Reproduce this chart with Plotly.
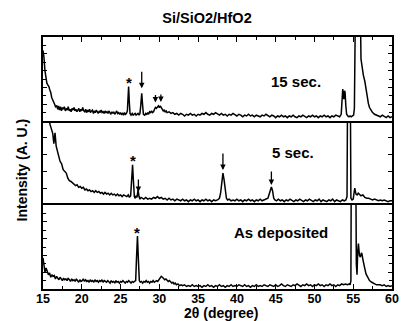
import numpy as np
import plotly.graph_objects as go
from plotly.subplots import make_subplots

title = "Si/SiO2/HfO2"
x_label = "2θ (degree)"
y_label = "Intensity (A. U.)"
sample_labels = ["15 sec.", "5 sec.", "As deposited"]
x_tick_vals = [15, 20, 25, 30, 35, 40, 45, 50, 55, 60]

# ---------------- 15 sec. (top) ----------------
x_15s = [15.00, 15.12, 15.25, 15.38, 15.50, 15.62, 15.76, 15.88, 16.00, 16.12,
         16.26, 16.38, 16.50, 16.62, 16.77, 16.90, 17.00, 17.12, 17.25, 17.38,
         17.50, 17.62, 17.75, 17.88, 18.00, 18.12, 18.25, 18.38, 18.50, 18.62,
         18.75, 18.88, 19.00, 19.12, 19.25, 19.38, 19.50, 19.62, 19.75, 19.88,
         20.00, 20.12, 20.25, 20.38, 20.50, 20.62, 20.75, 20.88, 21.00, 21.12,
         21.25, 21.38, 21.50, 21.62, 21.75, 21.88, 22.00, 22.12, 22.25, 22.38,
         22.50, 22.62, 22.75, 22.88, 23.00, 23.12, 23.25, 23.38, 23.50, 23.62,
         23.75, 23.88, 24.00, 24.12, 24.25, 24.38, 24.50, 24.62, 24.75, 24.88,
         25.00, 25.12, 25.25, 25.38, 25.50, 25.62, 25.75, 25.88, 25.95, 26.04,
         26.12, 26.22, 26.35, 26.50, 26.62, 26.75, 26.88, 27.00, 27.12, 27.25,
         27.38, 27.50, 27.60, 27.73, 27.85, 27.95, 28.12, 28.25, 28.38, 28.50,
         28.62, 28.75, 28.88, 29.00, 29.12, 29.25, 29.38, 29.50, 29.62, 29.75,
         29.88, 30.00, 30.12, 30.25, 30.38, 30.50, 30.62, 30.75, 30.88, 31.00,
         31.25, 31.50, 31.75, 32.00, 32.25, 32.50, 32.75, 33.00, 33.25, 33.50,
         33.75, 34.00, 34.25, 34.50, 34.75, 35.00, 35.25, 35.50, 35.75, 36.00,
         36.25, 36.50, 36.75, 37.00, 37.25, 37.50, 37.75, 38.00, 38.25, 38.50,
         38.75, 39.00, 39.25, 39.50, 39.75, 40.00, 40.25, 40.50, 40.75, 41.00,
         41.25, 41.50, 41.75, 42.00, 42.25, 42.50, 42.75, 43.00, 43.25, 43.50,
         43.75, 44.00, 44.25, 44.50, 44.75, 45.00, 45.25, 45.50, 45.75, 46.00,
         46.25, 46.50, 46.75, 47.00, 47.25, 47.50, 47.75, 48.00, 48.25, 48.50,
         48.75, 49.00, 49.25, 49.50, 49.75, 50.00, 50.25, 50.50, 50.75, 51.00,
         51.25, 51.50, 51.75, 52.00, 52.25, 52.50, 52.75, 53.00, 53.25, 53.45,
         53.58, 53.65, 53.72, 53.80, 53.88, 53.95, 54.05, 54.15, 54.30, 54.45,
         54.60, 54.75, 54.90, 55.05, 55.15, 55.22, 55.35, 55.55, 55.80, 55.90,
         56.00, 56.15, 56.30, 56.50, 56.65, 56.80, 56.95, 57.10, 57.30, 57.50,
         57.75, 58.00, 58.25, 58.50, 58.75, 59.00, 59.25, 59.50, 59.75, 60.00]
y_15s = [84, 76, 60, 49, 45, 43, 41, 37, 34, 28,
         24, 22, 20, 17, 18, 14, 18, 13, 17, 12,
         16, 14, 17, 12, 15, 13, 17, 12, 14, 11,
         15, 13, 16, 12, 14, 11, 13, 15, 11, 14,
         12, 16, 12, 11, 14, 10, 13, 11, 14, 10,
         12, 13, 9, 12, 10, 13, 11, 9, 12, 10,
         13, 10, 11, 9, 12, 10, 11, 9, 12, 10,
         8, 11, 9, 11, 8, 10, 12, 9, 10, 8,
         10, 8, 9, 7, 10, 8, 9, 12, 25, 41,
         24, 9, 7, 9, 7, 8, 9, 7, 8, 9,
         7, 9, 18, 33, 18, 8, 7, 9, 8, 10,
         8, 11, 10, 12, 10, 11, 14, 16, 15, 17,
         18, 16, 18, 16, 14, 12, 13, 11, 12, 10,
         11, 9, 10, 8, 9, 7, 9, 8, 6, 8,
         7, 9, 7, 8, 6, 8, 7, 9, 8, 10,
         8, 7, 9, 8, 10, 8, 7, 9, 7, 8,
         6, 8, 7, 9, 7, 6, 8, 7, 5, 7,
         6, 8, 6, 7, 5, 7, 6, 5, 7, 6,
         8, 6, 5, 7, 6, 4, 6, 5, 7, 5,
         6, 4, 6, 5, 7, 5, 4, 6, 5, 7,
         5, 4, 6, 5, 7, 5, 6, 4, 6, 5,
         7, 5, 6, 4, 6, 5, 7, 6, 5, 8,
         30, 38, 30, 26, 36, 34, 18, 8, 6, 5,
         6, 5, 6, 7, 15, 80, 200, 260, 200, 150,
         74, 62, 55, 47, 40, 30, 21, 16, 13, 10,
         8, 7, 6, 5, 7, 5, 4, 6, 4, 5]

# ---------------- 5 sec. (middle) ----------------
x_5s = [15.00, 15.40, 15.75, 15.90, 16.10, 16.26, 16.40, 16.55, 16.70, 16.85,
        17.00, 17.20, 17.40, 17.60, 17.80, 18.00, 18.20, 18.40, 18.60, 18.80,
        19.00, 19.20, 19.40, 19.60, 19.80, 20.00, 20.20, 20.40, 20.60, 20.80,
        21.00, 21.20, 21.40, 21.60, 21.80, 22.00, 22.20, 22.40, 22.60, 22.80,
        23.00, 23.20, 23.40, 23.60, 23.80, 24.00, 24.20, 24.40, 24.60, 24.80,
        25.00, 25.20, 25.40, 25.60, 25.80, 26.00, 26.15, 26.30, 26.42, 26.55,
        26.65, 26.78, 26.90, 27.00, 27.12, 27.26, 27.38, 27.50, 27.65, 27.80,
        28.00, 28.25, 28.50, 28.75, 29.00, 29.25, 29.50, 29.75, 30.00, 30.25,
        30.50, 30.75, 31.00, 31.25, 31.50, 31.75, 32.00, 32.25, 32.50, 32.75,
        33.00, 33.25, 33.50, 33.75, 34.00, 34.25, 34.50, 34.75, 35.00, 35.25,
        35.50, 35.75, 36.00, 36.25, 36.50, 36.75, 37.00, 37.25, 37.50, 37.75,
        37.90, 38.05, 38.20, 38.35, 38.50, 38.65, 38.80, 39.00, 39.25, 39.50,
        39.75, 40.00, 40.25, 40.50, 40.75, 41.00, 41.25, 41.50, 41.75, 42.00,
        42.25, 42.50, 42.75, 43.00, 43.25, 43.50, 43.75, 44.00, 44.20, 44.35,
        44.45, 44.60, 44.75, 44.90, 45.10, 45.35, 45.60, 45.85, 46.10, 46.35,
        46.60, 46.85, 47.10, 47.35, 47.60, 47.85, 48.10, 48.35, 48.60, 48.85,
        49.10, 49.35, 49.60, 49.85, 50.10, 50.35, 50.60, 50.85, 51.10, 51.35,
        51.60, 51.85, 52.10, 52.35, 52.60, 52.85, 53.10, 53.35, 53.60, 53.85,
        54.05, 54.20, 54.28, 54.45, 54.62, 54.70, 54.85, 55.00, 55.10, 55.20,
        55.35, 55.50, 55.65, 55.80, 56.00, 56.25, 56.50, 56.75, 57.00, 57.25,
        57.50, 57.75, 58.00, 58.25, 58.50, 58.75, 59.00, 59.25, 59.50, 59.75,
        60.00]
y_5s = [140, 120, 104, 96, 90, 85, 73, 86, 70, 62,
        59, 52, 49, 42, 40, 38, 32, 29, 28, 26,
        25, 23, 24, 21, 22, 20, 21, 18, 19, 17,
        18, 16, 17, 15, 17, 15, 16, 14, 15, 13,
        15, 13, 14, 12, 14, 12, 13, 11, 13, 11,
        12, 10, 12, 11, 10, 12, 9, 11, 25, 48,
        30, 10, 8, 11, 9, 18, 10, 7, 9, 8,
        7, 9, 7, 8, 7, 9, 8, 10, 8, 9,
        7, 8, 6, 8, 6, 7, 5, 7, 6, 5,
        7, 5, 6, 4, 6, 5, 7, 5, 6, 4,
        6, 5, 7, 5, 6, 4, 6, 5, 6, 8,
        14, 30, 38, 30, 14, 8, 6, 7, 5, 6,
        5, 7, 5, 6, 4, 6, 5, 7, 5, 6,
        4, 6, 5, 7, 5, 6, 7, 8, 14, 20,
        21.5, 17, 8, 6, 5, 7, 5, 6, 4, 6,
        5, 7, 5, 4, 6, 5, 7, 5, 4, 6,
        5, 7, 5, 4, 6, 5, 7, 4, 6, 5,
        4, 6, 5, 7, 4, 6, 5, 4, 6, 5,
        6, 10, 150, 300, 150, 8, 6, 7, 14, 20,
        13, 12, 14, 13, 11, 12, 9, 8, 8, 7,
        6, 7, 6, 5, 6, 5, 6, 5, 4, 5,
        5]

# ---------------- As deposited (bottom) ----------------
x_dep = [15.00, 15.12, 15.25, 15.40, 15.55, 15.70, 15.85, 16.00, 16.15, 16.30,
         16.45, 16.60, 16.75, 16.90, 17.05, 17.20, 17.35, 17.50, 17.65, 17.80,
         17.95, 18.10, 18.25, 18.40, 18.55, 18.70, 18.85, 19.00, 19.15, 19.30,
         19.45, 19.60, 19.75, 19.90, 20.05, 20.20, 20.35, 20.50, 20.65, 20.80,
         20.95, 21.10, 21.25, 21.40, 21.55, 21.70, 21.85, 22.00, 22.15, 22.30,
         22.45, 22.60, 22.75, 22.90, 23.05, 23.20, 23.35, 23.50, 23.65, 23.80,
         23.95, 24.10, 24.25, 24.40, 24.55, 24.70, 24.85, 25.00, 25.15, 25.30,
         25.45, 25.60, 25.75, 25.90, 26.05, 26.20, 26.35, 26.50, 26.65, 26.80,
         26.95, 27.05, 27.18, 27.30, 27.42, 27.55, 27.70, 27.85, 28.00, 28.15,
         28.30, 28.45, 28.60, 28.75, 28.90, 29.05, 29.20, 29.35, 29.50, 29.65,
         29.80, 29.95, 30.10, 30.25, 30.40, 30.55, 30.70, 30.85, 31.00, 31.15,
         31.30, 31.45, 31.60, 31.75, 31.90, 32.05, 32.20, 32.40, 32.60, 32.80,
         33.00, 33.25, 33.50, 33.75, 34.00, 34.25, 34.50, 34.75, 35.00, 35.25,
         35.50, 35.75, 36.00, 36.25, 36.50, 36.75, 37.00, 37.25, 37.50, 37.75,
         38.00, 38.25, 38.50, 38.75, 39.00, 39.25, 39.50, 39.75, 40.00, 40.25,
         40.50, 40.75, 41.00, 41.25, 41.50, 41.75, 42.00, 42.25, 42.50, 42.75,
         43.00, 43.25, 43.50, 43.75, 44.00, 44.25, 44.50, 44.75, 45.00, 45.25,
         45.50, 45.75, 46.00, 46.25, 46.50, 46.75, 47.00, 47.25, 47.50, 47.75,
         48.00, 48.25, 48.50, 48.75, 49.00, 49.25, 49.50, 49.75, 50.00, 50.25,
         50.50, 50.75, 51.00, 51.25, 51.50, 51.75, 52.00, 52.25, 52.50, 52.75,
         53.00, 53.25, 53.50, 53.75, 54.00, 54.25, 54.50, 54.60, 54.70, 54.75,
         55.00, 55.33, 55.40, 55.49, 55.58, 55.67, 55.80, 55.92, 56.05, 56.12,
         56.25, 56.34, 56.50, 56.65, 56.75, 56.90, 57.10, 57.39, 57.70, 58.00,
         58.45, 58.75, 59.00, 59.25, 59.50, 59.75, 60.00]
y_dep = [37, 28, 20, 25, 22, 17, 19, 14, 17, 15,
         16, 12, 15, 13, 11, 14, 12, 10, 13, 11,
         12, 10, 13, 11, 9, 12, 10, 11, 9, 12,
         10, 8, 11, 9, 10, 12, 9, 11, 9, 10,
         8, 11, 9, 10, 8, 11, 9, 10, 8, 10,
         9, 11, 8, 10, 9, 8, 10, 9, 7, 10,
         8, 9, 7, 10, 8, 9, 7, 9, 8, 10,
         8, 7, 9, 8, 10, 8, 7, 9, 8, 9,
         10, 35, 63, 35, 10, 8, 9, 7, 9, 8,
         10, 8, 9, 7, 9, 8, 10, 8, 9, 10,
         9, 11, 13, 15, 14, 12, 11, 12, 10, 9,
         10, 8, 7, 8, 6, 7, 5, 6, 4, 5,
         4, 5, 3, 4, 3, 5, 3, 4, 3, 4,
         2, 4, 3, 5, 3, 4, 2, 4, 3, 5,
         3, 4, 2, 4, 3, 5, 3, 4, 3, 5,
         4, 3, 5, 3, 4, 2, 4, 3, 5, 3,
         4, 3, 5, 4, 3, 5, 4, 3, 5, 3,
         4, 6, 4, 3, 5, 4, 3, 5, 4, 6,
         4, 3, 5, 4, 6, 4, 5, 3, 5, 4,
         6, 4, 5, 3, 5, 4, 6, 4, 5, 3,
         5, 4, 6, 5, 6, 5, 6, 5, 10, 150,
         300, 150, 30, 17, 45, 54, 40, 38, 43, 42,
         35, 32, 24, 18, 16, 12, 10, 8, 6, 5,
         5, 4, 5, 3, 4, 3, 4]

# peak markers: (* = substrate peak, arrows = HfO2 peaks)
star_15s = [26.04]
arrows_15s = [27.73, 29.50, 30.20]
star_5s = [26.55]
arrows_5s = [27.30, 38.20, 44.45]
star_dep = [27.18]

series = [(x_15s, y_15s), (x_5s, y_5s), (x_dep, y_dep)]
stars = [star_15s, star_5s, star_dep]
arrows = [arrows_15s, arrows_5s, []]
arrow_len = [[23, 14, 14], [14, 21, 17], []]
arrow_gap = [[5, 5, 5], [0, 3, 2], []]
label_pos = [(47.6, 47), (47.2, 62), (45.7, 66.7)]

FONT = "Liberation Sans, Arial, sans-serif"

fig = make_subplots(rows=3, cols=1, shared_xaxes=True, vertical_spacing=0)

for i, (xs, ys) in enumerate(series):
    fig.add_trace(go.Scatter(x=xs, y=ys, mode="lines",
                             line=dict(color="black", width=1.5),
                             hoverinfo="skip"), row=i + 1, col=1)

for i in range(3):
    xs, ys = series[i]
    axn = "" if i == 0 else str(i + 1)
    for sx in stars[i]:
        sy = float(np.interp(sx, xs, ys))
        fig.add_annotation(x=sx, y=sy, xref="x" + axn, yref="y" + axn,
                           text="*", showarrow=False, yanchor="middle",
                           yshift=4, font=dict(size=15, family=FONT,
                                               color="black", weight="bold"))
    for k, ax_x in enumerate(arrows[i]):
        ay_v = float(np.interp(ax_x, xs, ys))
        fig.add_annotation(x=ax_x, y=ay_v, xref="x" + axn, yref="y" + axn,
                           text="", showarrow=True, ax=0,
                           ay=-arrow_len[i][k], arrowhead=2, arrowsize=0.85,
                           arrowwidth=1.3, arrowcolor="black",
                           standoff=arrow_gap[i][k])
    lx, ly = label_pos[i]
    fig.add_annotation(x=lx, y=ly, xref="x" + axn, yref="y" + axn,
                       text=sample_labels[i], showarrow=False,
                       font=dict(size=15, family=FONT, color="black",
                                 weight="bold"))

common_x = dict(range=[15, 60], linecolor="black", linewidth=2,
                showgrid=False, zeroline=False)
fig.update_xaxes(**common_x)
fig.update_xaxes(row=1, col=1, side="top", showline=True, mirror=True,
                 ticks="inside", ticklen=5,
                 tickwidth=1.3, tickcolor="black", tickvals=x_tick_vals,
                 showticklabels=False,
                 minor=dict(dtick=2.5, tick0=15, ticks="inside", ticklen=3,
                            tickcolor="black", tickwidth=1))
fig.update_xaxes(row=2, col=1, showline=False, ticks="",
                 showticklabels=False)
fig.update_xaxes(row=3, col=1, showline=True, mirror=True,
                 ticks="inside", ticklen=5, tickwidth=1.3,
                 tickcolor="black", tickvals=x_tick_vals,
                 showticklabels=True, ticklabelstandoff=-3,
                 tickfont=dict(size=12.5, family=FONT, color="black",
                               weight="bold"),
                 minor=dict(dtick=2.5, tick0=15, ticks="inside", ticklen=3,
                            tickcolor="black", tickwidth=1))

common_y = dict(range=[0, 100], showline=True, linecolor="black", linewidth=2,
                mirror="allticks", ticks="inside", ticklen=4, tickwidth=1.2,
                tickcolor="black", dtick=20, tick0=0, showticklabels=False,
                showgrid=False, zeroline=False)
fig.update_yaxes(**common_y)
for r in (1, 3):
    fig.update_yaxes(row=r, col=1,
                     minor=dict(dtick=10, tick0=0, ticks="inside", ticklen=3,
                                tickcolor="black", tickwidth=1))

fig.add_annotation(xref="paper", yref="paper", x=0.511, y=-0.095,
                   text=x_label, showarrow=False, yanchor="middle",
                   font=dict(size=14, family=FONT, color="black",
                             weight="bold"))
fig.add_annotation(xref="paper", yref="paper", x=-0.059, y=0.472,
                   text=y_label, showarrow=False, textangle=-90,
                   xanchor="center", yanchor="middle",
                   font=dict(size=14, family=FONT, color="black",
                             weight="bold"))

# The page body adds an 8px offset; the figure is sized so the plot lands
# where the reference's plot area is.
fig.update_layout(
    width=400, height=313,
    margin=dict(l=35, r=9, t=29, b=32),
    paper_bgcolor="white", plot_bgcolor="white",
    showlegend=False,
    title=dict(text=title, x=199 / 400, xanchor="center", y=1 - 10 / 313,
               yanchor="middle",
               font=dict(size=14.5, family=FONT, color="black",
                         weight="bold")),
    font=dict(family=FONT, color="black"),
)

fig.write_html("out.html")
